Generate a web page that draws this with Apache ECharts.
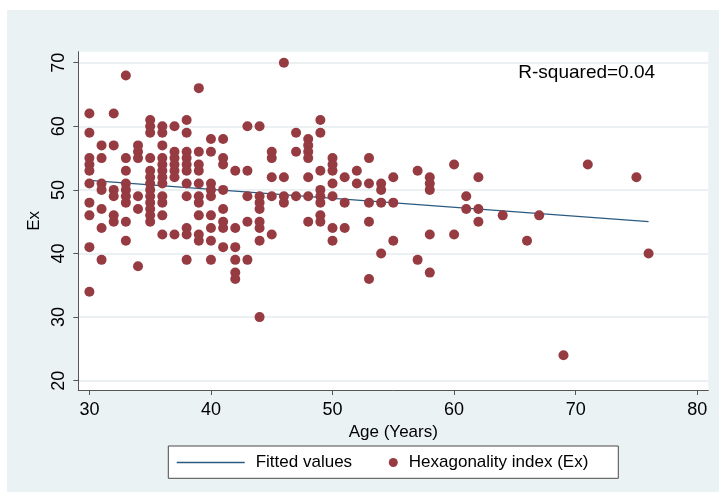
<!DOCTYPE html>
<html><head><meta charset="utf-8">
<script src="https://cdn.jsdelivr.net/npm/echarts@6/dist/echarts.min.js"></script>
<style>
html,body{margin:0;padding:0;background:#fff;width:719px;height:492px;overflow:hidden}
#c{position:absolute;left:7px;top:10px;width:712px;height:482px;}
</style>
</head><body><div id="c"></div>
<script>
// Scatter data: age (years) and hexagonality index (Ex)
const ageYears = [
  30,30,30,30,30,30,30,30,30,30,
  31,31,31,31,31,31,31,
  32,32,32,32,32,32,
  33,33,33,33,33,33,33,33,33,
  34,34,34,34,34,34,
  35,35,35,35,35,35,35,35,35,35,35,35,35,
  36,36,36,36,36,36,36,36,36,36,36,36,
  37,37,37,37,37,37,37,
  38,38,38,38,38,38,38,38,38,38,38,
  39,39,39,39,39,39,39,39,39,39,
  40,40,40,40,40,40,40,40,40,
  41,41,41,41,41,41,41,41,
  42,42,42,42,42,42,
  43,43,43,43,43,
  44,44,44,44,44,44,44,44,
  45,45,45,45,45,
  46,46,46,46,
  47,47,47,
  48,48,48,48,48,48,48,
  49,49,49,49,49,49,49,49,
  50,50,50,50,50,50,50,
  51,51,51,
  52,52,
  53,53,53,53,53,
  54,54,54,54,
  55,55,55,
  57,57,
  58,58,58,58,58,
  60,60,
  61,61,
  62,62,62,
  64,66,67,69,71,75,76
];
const exValues = [
  62,59,55,54,53,51,48,46,41,34,
  57,55,51,50,47,44,39,
  62,57,50,49,46,45,
  68,55,53,51,50,49,48,45,42,
  57,56,55,49,47,38,
  61,60,59,55,53,52,51,50,49,48,47,46,45,
  60,59,57,55,54,53,52,51,49,48,46,43,
  60,56,55,54,53,52,43,
  61,59,56,55,54,53,51,49,44,43,39,
  66,56,54,53,51,49,48,46,43,42,
  58,56,51,50,49,46,44,42,39,
  58,55,54,50,47,45,44,41,
  53,44,41,39,37,36,
  60,53,49,45,39,
  60,49,48,47,45,44,42,30,
  56,55,52,49,43,
  70,52,49,48,
  59,56,49,
  58,57,56,55,52,49,45,
  61,59,53,50,49,48,46,45,
  55,54,53,51,49,44,42,
  52,48,44,
  53,51,
  55,51,48,45,36,
  51,50,48,40,
  52,48,42,
  53,39,
  52,51,50,43,37,
  54,43,
  49,47,
  52,47,45,
  46,42,46,24,54,52,40
];
// Fitted regression line end points
const fittedAge = [30, 76];
const fittedEx = [51.5, 45.0];
// Tick labels
const xTicks = [30, 40, 50, 60, 70, 80];
const yTicks = [20, 30, 40, 50, 60, 70];
const rSquaredText = 'R-squared=0.04';
const seriesNames = ['Fitted values', 'Hexagonality index (Ex)'];

const FONT = "'Liberation Sans', Arial, Helvetica, sans-serif";
const scatterData = ageYears.map((a, i) => [a, exValues[i]]);
const lineData = fittedAge.map((a, i) => [a, fittedEx[i]]);

const chart = echarts.init(document.getElementById('c'), null, {renderer: 'canvas'});
chart.setOption({
  backgroundColor: '#eaf2f3',
  animation: false,
  textStyle: {fontFamily: FONT},
  title: {
    text: rSquaredText, left: 511.3, top: 53, padding: 0,
    textStyle: {fontSize: 19, fontWeight: 'normal', color: '#000', fontFamily: FONT}
  },
  grid: {
    left: 71.3, top: 41.7, right: 10.7, bottom: 102,
    show: true, backgroundColor: '#fff', borderWidth: 0,
    outerBoundsMode: 'none', containLabel: false
  },
  graphic: [{
    type: 'rect', z: 1,
    shape: {x: 161.3, y: 436, width: 450, height: 32.3},
    style: {fill: '#fff', stroke: '#4a4a4a', lineWidth: 1}
  }],
  legend: [{
    data: [{name: seriesNames[0], icon: 'rect'}], left: 169.7, top: 444, padding: 0,
    itemWidth: 68, itemHeight: 1.4,
    textStyle: {fontSize: 17, color: '#000', fontFamily: FONT, padding: [0, 0, 0, 6]}
  }, {
    data: [{name: seriesNames[1], icon: 'circle'}], left: 381.8, top: 444, padding: 0,
    itemWidth: 9, itemHeight: 9,
    textStyle: {fontSize: 17, color: '#000', fontFamily: FONT, padding: [0, 0, 0, 6]}
  }],
  xAxis: {
    type: 'value', min: 29.087, max: 80.913,
    name: 'Age (Years)', nameLocation: 'middle', nameGap: 29,
    nameTextStyle: {fontSize: 17, color: '#000', fontFamily: FONT},
    axisLine: {show: true, lineStyle: {color: '#555', width: 1}},
    axisTick: {show: true, length: 5, customValues: xTicks, lineStyle: {color: '#555'}},
    axisLabel: {customValues: xTicks, fontSize: 18, color: '#000', margin: 11, fontFamily: FONT},
    splitLine: {show: false}
  },
  yAxis: {
    type: 'value', min: 18.54, max: 71.73,
    name: 'Ex', nameLocation: 'middle', nameGap: 30, nameRotate: 90,
    nameTextStyle: {fontSize: 17, color: '#000', fontFamily: FONT},
    axisLine: {show: true, lineStyle: {color: '#555', width: 1}},
    axisTick: {show: true, length: 5, customValues: yTicks, lineStyle: {color: '#555'}},
    axisLabel: {customValues: yTicks, rotate: 90, fontSize: 18, color: '#000', margin: 10, fontFamily: FONT},
    splitLine: {show: true, lineStyle: {color: '#e4edef', width: 1.5}}
  },
  series: [{
    name: seriesNames[0], type: 'line', data: lineData, symbol: 'none', z: 2,
    lineStyle: {color: '#2a5a80', width: 1.3}, itemStyle: {color: '#2a5a80'}
  }, {
    name: seriesNames[1], type: 'scatter', data: scatterData, symbol: 'circle', symbolSize: 10, z: 3,
    itemStyle: {color: '#963b41', opacity: 1}
  }]
});
</script>
</body></html>
